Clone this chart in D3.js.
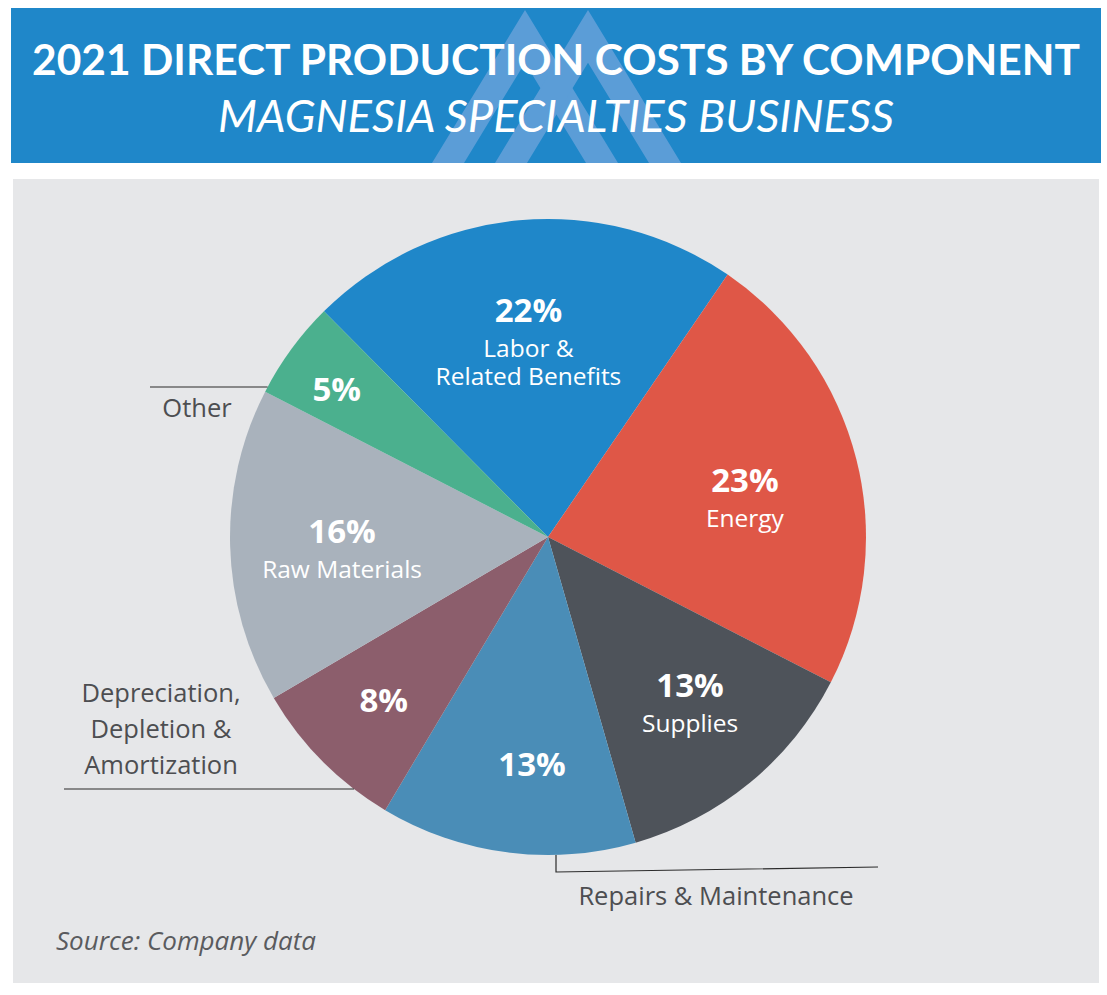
<!DOCTYPE html>
<html>
<head>
<meta charset="utf-8">
<script src="https://cdn.jsdelivr.net/npm/d3@7"></script>
<style>
  body { margin: 0; background: #ffffff; }
  svg { display: block; font-family: "Open Sans", Lato, sans-serif; }
</style>
</head>
<body>
<div id="chart"></div>
<script>
// data, clockwise from the top-left boundary
const categories = ["Labor & Related Benefits", "Energy", "Supplies", "Repairs & Maintenance",
  "Depreciation, Depletion & Amortization", "Raw Materials", "Other"];
const shares = [22, 23, 13, 13, 8, 16, 5];
const pctLabels = ["22%", "23%", "13%", "13%", "8%", "16%", "5%"];
// text shown inside the slice under the percent (empty = labelled outside)
const innerNames = [["Labor &", "Related Benefits"], ["Energy"], ["Supplies"], [], [], ["Raw Materials"], []];
const sliceColors = ["#1f87c9", "#df5747", "#4e535a", "#4a8db7", "#8c5e6c", "#a9b2bc", "#4bb08e"];

const width = 1107;
const height = 995;
const cx = 548, cy = 537, radius = 318;
// where the percent sits: distance from centre and a small turn off the mid angle (degrees)
const labelRadius = [216, 202, 214, 240, 240, 206, 251];
const labelTurn = [0, 1.3, -2.2, -3.6, -2, 0, -3.5];
const textGray = "#4d4e51";

const svg = d3.select("#chart")
  .append("svg")
  .attr("width", width)
  .attr("height", height);

// header band
svg.append("rect")
  .attr("x", 11).attr("y", 8)
  .attr("width", 1090).attr("height", 155)
  .attr("fill", "#1f87c9");

// watermark logo: two interlocking chevrons
const chevron = (apexX) => {
  const top = 10, base = 163, half = 93, t = 32;
  const innerTop = top + t * (base - top) / half;
  return `M${apexX - half},${base} L${apexX},${top} L${apexX + half},${base} ` +
    `L${apexX + half - t},${base} L${apexX},${innerTop} L${apexX - half + t},${base} Z`;
};
svg.append("g")
  .selectAll("path")
  .data([525, 588])
  .join("path")
  .attr("d", (d) => chevron(d))
  .attr("fill", "#5b9dd7");

// fit a header line to a target width by font size
function fitText(sel, target) {
  const w = sel.node().getComputedTextLength();
  const fs = parseFloat(sel.attr("font-size"));
  sel.attr("font-size", fs * target / w);
}

const title = svg.append("text")
  .attr("x", 556).attr("y", 75)
  .attr("text-anchor", "middle")
  .attr("fill", "#ffffff")
  .attr("font-family", "Lato, sans-serif")
  .attr("font-weight", 700)
  .attr("font-size", 45)
  .text("2021 DIRECT PRODUCTION COSTS BY COMPONENT");
fitText(title, 1048);

const subtitle = svg.append("text")
  .attr("x", 556).attr("y", 132)
  .attr("text-anchor", "middle")
  .attr("fill", "#ffffff")
  .attr("font-family", "Lato, sans-serif")
  .attr("font-style", "italic")
  .attr("font-weight", 400)
  .attr("font-size", 42)
  .text("MAGNESIA SPECIALTIES BUSINESS");
fitText(subtitle, 676);

// grey panel
svg.append("rect")
  .attr("x", 13).attr("y", 179)
  .attr("width", 1086).attr("height", 804)
  .attr("fill", "#e6e7e9");

// pie
const startAngle = -44.8 * Math.PI / 180;
const pie = d3.pie()
  .sort(null)
  .value((d) => d)
  .startAngle(startAngle)
  .endAngle(startAngle + 2 * Math.PI);
const arcs = pie(shares);

const arc = d3.arc().innerRadius(0).outerRadius(radius);

const pieG = svg.append("g")
  .attr("transform", `translate(${cx},${cy})`);

pieG.selectAll("path")
  .data(arcs)
  .join("path")
  .attr("d", arc)
  .attr("fill", (d, i) => sliceColors[i]);

// labels inside slices
const labelG = pieG.selectAll("g.lbl")
  .data(arcs)
  .join("g")
  .attr("class", "lbl")
  .attr("transform", (d, i) => {
    const turn = labelTurn[i] * Math.PI / 180;
    const shifted = { startAngle: d.startAngle + turn, endAngle: d.endAngle + turn };
    const c = d3.arc().innerRadius(labelRadius[i]).outerRadius(labelRadius[i]).centroid(shifted);
    return `translate(${c[0]},${c[1]})`;
  });

labelG.append("text")
  .attr("text-anchor", "middle")
  .attr("fill", "#ffffff")
  .attr("font-weight", 700)
  .attr("font-size", 33)
  .text((d, i) => pctLabels[i]);

// slice name, one text block with a tspan per line
labelG.filter((d, i) => innerNames[i].length > 0)
  .append("text")
  .attr("text-anchor", "middle")
  .attr("y", 35)
  .attr("fill", "#ffffff")
  .attr("font-size", 24.5)
  .each(function (d, i) {
    const idx = arcs.indexOf(d);
    d3.select(this).selectAll("tspan")
      .data(innerNames[idx])
      .join("tspan")
      .attr("x", 0)
      .attr("dy", (t, j) => (j === 0 ? 0 : 28))
      .text((t) => t);
  });

// outside callouts
const edgeX = (y) => cx - Math.sqrt(radius * radius - (y - cy) * (y - cy));
const edgeY = (x) => cy + Math.sqrt(radius * radius - (x - cx) * (x - cx));

const callouts = svg.append("g")
  .attr("stroke", "#2b2b2b")
  .attr("stroke-width", 1.2)
  .attr("fill", "none");

callouts.append("line")
  .attr("x1", 150).attr("y1", 387)
  .attr("x2", edgeX(387)).attr("y2", 387);

callouts.append("line")
  .attr("x1", 64).attr("y1", 789)
  .attr("x2", edgeX(789)).attr("y2", 789);

callouts.append("path")
  .attr("d", `M556,${edgeY(556)} L556,872 L878,867`);

const outText = svg.append("g")
  .attr("fill", textGray)
  .attr("font-size", 25.5)
  .attr("text-anchor", "middle");

outText.append("text")
  .attr("x", 197).attr("y", 417)
  .text(categories[6]);

outText.append("text")
  .attr("y", 702)
  .selectAll("tspan")
  .data(["Depreciation,", "Depletion &", "Amortization"])
  .join("tspan")
  .attr("x", 161)
  .attr("dy", (t, j) => (j === 0 ? 0 : 36))
  .text((t) => t);

outText.append("text")
  .attr("x", 716).attr("y", 905)
  .text(categories[3]);

svg.append("text")
  .attr("x", 56).attr("y", 950)
  .attr("fill", "#5a5b5e")
  .attr("font-style", "italic")
  .attr("font-size", 26)
  .text("Source: Company data");
</script>
</body>
</html>
